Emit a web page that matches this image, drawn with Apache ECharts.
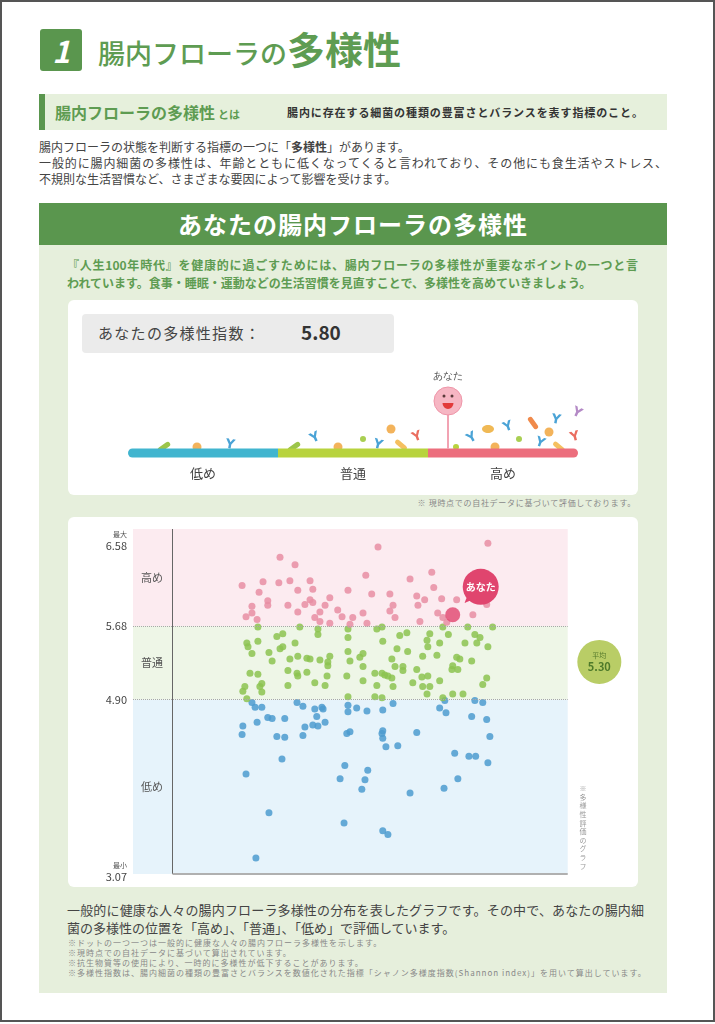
<!DOCTYPE html>
<html lang="ja">
<head>
<meta charset="utf-8">
<title>腸内フローラの多様性</title>
<script src="https://cdn.jsdelivr.net/npm/echarts@6/dist/echarts.min.js"></script>
<style>
  html, body { margin: 0; padding: 0; background: #fff; }
  body { width: 715px; height: 1024px; position: relative; overflow: hidden;
         font-family: "Noto Sans CJK JP", "Noto Sans", sans-serif; color: #444; }
  .abs { position: absolute; }
  .frame { left: 0; top: 0; width: 715px; height: 1022px; border: 2px solid #555; box-sizing: border-box; }
  .num { left: 40px; top: 29px; width: 42px; height: 42px; background: #5a964e; border-radius: 3px;
         color: #fff; font-size: 30px; font-weight: 700; font-style: italic; text-align: center; line-height: 42px; }
  .title { left: 98px; top: 29px; color: #5e9c52; white-space: nowrap; line-height: 1; }
  .title .a { font-size: 27px; font-weight: 500; }
  .title .b { font-size: 38px; font-weight: 700; }
  .defbar { left: 39px; top: 94px; width: 628px; height: 36px; background: #e6f0dc;
            border-left: 6px solid #5a964e; box-sizing: border-box; }
  .deft { left: 55px; top: 102px; color: #5e9c52; font-size: 16px; font-weight: 700; line-height: 20px; white-space: nowrap; }
  .deft small { font-size: 11px; margin-left: 3px; }
  .defr { left: 287px; top: 104px; font-size: 11px; font-weight: 700; color: #333; letter-spacing: 0.9px; line-height: 16px; white-space: nowrap; }
  .para { left: 39px; top: 139px; width: 628px; font-size: 12px; line-height: 16px; color: #444; }
  .just { text-align: justify; text-align-last: justify; }
  .head { left: 39px; top: 203px; width: 628px; height: 42px; background: #5a964e; color: #fff;
          font-size: 24px; font-weight: 700; text-align: center; line-height: 42px; letter-spacing: 1px; }
  .panel { left: 39px; top: 245px; width: 628px; height: 748px; background: #e6efdc; }
  .intro { left: 67px; top: 256px; width: 571px; font-size: 12px; font-weight: 700; color: #5e9c52; line-height: 18px; }
  .box { background: #fff; border-radius: 6px; }
  .score { left: 82px; top: 314px; width: 312px; height: 39px; background: #ebebeb; border-radius: 4px; }
  .scoret { left: 98px; top: 322px; font-size: 15px; color: #444; line-height: 22px; white-space: nowrap; letter-spacing: 1.3px; }
  .scorev { left: 301px; top: 320px; font-size: 19px; font-weight: 700; color: #333; line-height: 24px; }
  .note1 { left: 400px; top: 498px; width: 236px; text-align: right; font-size: 8px; letter-spacing: 0.7px; color: #888; line-height: 10px; white-space: nowrap; }
  .vnote { left: 578px; top: 785px; writing-mode: vertical-rl; font-size: 7px; color: #999; letter-spacing: 1.6px; }
  .bottom { left: 67px; top: 901px; width: 577px; font-size: 13px; color: #444; line-height: 18px; }
  .notes { left: 68px; top: 938px; font-size: 8px; letter-spacing: 1px; color: #888; line-height: 10px; white-space: nowrap; }
</style>
</head>
<body>
<div class="abs frame"></div>
<div class="abs num">1</div>
<div class="abs title"><span class="a">腸内フローラの</span><span class="b">多様性</span></div>

<div class="abs defbar"></div>
<div class="abs deft">腸内フローラの多様性<small>とは</small></div>
<div class="abs defr">腸内に存在する細菌の種類の豊富さとバランスを表す指標のこと。</div>

<div class="abs para">
  <div>腸内フローラの状態を判断する指標の一つに「<b>多様性</b>」があります。</div>
  <div class="just">一般的に腸内細菌の多様性は、年齢とともに低くなってくると言われており、その他にも食生活やストレス、</div>
  <div>不規則な生活習慣など、さまざまな要因によって影響を受けます。</div>
</div>

<div class="abs panel"></div>
<div class="abs head">あなたの腸内フローラの多様性</div>
<div class="abs intro">
  <div class="just">『人生100年時代』を健康的に過ごすためには、腸内フローラの多様性が重要なポイントの一つと言</div>
  <div>われています。食事・睡眠・運動などの生活習慣を見直すことで、多様性を高めていきましょう。</div>
</div>

<div class="abs box" style="left:68px;top:300px;width:570px;height:195px;"></div>
<div id="gauge" class="abs" style="left:68px;top:300px;width:570px;height:195px;"></div>
<div class="abs score"></div>
<div class="abs scoret">あなたの多様性指数：</div>
<div class="abs scorev" id="scoreText"></div>
<div class="abs note1">※ 現時点での自社データに基づいて評価しております。</div>

<div class="abs box" style="left:68px;top:517px;width:570px;height:370px;"></div>
<div id="scatter" class="abs" style="left:68px;top:517px;width:570px;height:370px;"></div>
<div class="abs vnote">※多様性評価のグラフ</div>

<div class="abs bottom">
  <div class="just">一般的に健康な人々の腸内フローラ多様性の分布を表したグラフです。その中で、あなたの腸内細</div>
  <div>菌の多様性の位置を「高め」、「普通」、「低め」で評価しています。</div>
</div>
<div class="abs notes">
  <div>※ドットの一つ一つは一般的に健康な人々の腸内フローラ多様性を示します。</div>
  <div>※現時点での自社データに基づいて算出されています。</div>
  <div>※抗生物質等の使用により、一時的に多様性が低下することがあります。</div>
  <div>※多様性指数は、腸内細菌の種類の豊富さとバランスを数値化された指標「シャノン多様度指数(Shannon index)」を用いて算出しています。</div>
</div>

<script>
// 評価の区分
var levelNames = ['低め', '普通', '高め'];
var levelBreaks = [3.07, 4.90, 5.68, 6.58];
var tickTags = ['最小', '', '', '最大'];

// あなたのスコアと平均
var youScore = 5.80;
var youPos = 70.9;
var avgScore = 5.30;

// 分布のドット [横位置, 多様性指数]
var highDots = [
  [52.0,6.52],[79.8,6.56],[27.2,6.41],[31.0,6.33],[17.6,6.11],[22.9,6.15],[26.9,6.14],[29.7,6.16],
  [34.8,6.16],[48.9,6.22],[60.1,6.18],[65.6,6.25],[21.9,6.04],[31.7,6.06],[35.5,6.07],[44.4,6.06],
  [50.4,6.02],[55.0,6.02],[66.1,6.09],[61.8,6.00],[63.8,5.96],[68.1,5.97],[71.9,5.96],[24.1,5.95],
  [34.8,5.96],[39.8,5.98],[20.1,5.89],[24.1,5.90],[29.2,5.90],[33.5,5.91],[35.5,5.93],[38.6,5.90],
  [55.8,5.90],[62.1,5.90],[79.5,5.91],[20.1,5.82],[31.7,5.83],[37.3,5.83],[41.8,5.85],[48.2,5.82],
  [55.0,5.84],[67.1,5.82],[76.0,5.80],[18.6,5.78],[21.4,5.75],[36.0,5.77],[37.3,5.73],[42.9,5.78],
  [45.6,5.77],[56.3,5.77],[62.6,5.73],[68.4,5.77],[69.4,5.72],[39.8,5.71],[44.9,5.70],[49.2,5.71]
];
var normalDots = [
  [21.6,5.67],[32.2,5.67],[36.8,5.65],[44.4,5.65],[53.0,5.67],[68.4,5.67],[74.7,5.67],[81.0,5.67],
  [26.4,5.57],[27.9,5.60],[36.8,5.59],[44.4,5.56],[51.7,5.65],[57.5,5.58],[59.3,5.61],[65.1,5.60],
  [69.8,5.59],[76.5,5.59],[77.8,5.56],[18.8,5.50],[19.1,5.46],[21.6,5.52],[31.0,5.50],[53.2,5.52],
  [64.4,5.53],[64.6,5.46],[67.6,5.50],[74.0,5.50],[77.0,5.50],[79.8,5.46],[27.2,5.44],[27.9,5.46],
  [56.8,5.44],[20.1,5.39],[24.4,5.40],[44.4,5.41],[48.2,5.39],[47.4,5.35],[59.5,5.41],[66.9,5.37],
  [63.3,5.36],[71.9,5.35],[72.7,5.33],[39.8,5.36],[31.7,5.36],[34.0,5.34],[34.8,5.33],[29.7,5.33],
  [25.2,5.31],[37.3,5.32],[39.3,5.30],[44.9,5.31],[55.5,5.33],[75.7,5.31],[39.3,5.26],[48.2,5.25],
  [56.3,5.25],[58.3,5.25],[58.3,5.21],[61.8,5.22],[70.7,5.22],[70.9,5.26],[72.2,5.22],[29.2,5.21],
  [31.5,5.18],[34.0,5.19],[31.7,5.15],[19.6,5.18],[21.6,5.17],[53.0,5.18],[53.7,5.16],[54.5,5.15],
  [55.5,5.13],[51.2,5.18],[39.1,5.15],[44.1,5.15],[48.2,5.10],[63.1,5.14],[64.6,5.15],[67.6,5.10],
  [79.5,5.13],[36.0,5.08],[38.6,5.05],[29.2,5.05],[22.6,5.07],[22.1,5.04],[18.3,5.04],[51.7,5.05],
  [55.8,5.04],[60.8,5.08],[63.3,5.04],[65.1,5.04],[78.5,5.06],[17.8,4.99],[22.6,4.98],[44.4,4.93],
  [51.2,4.93],[53.0,4.92],[64.4,4.96],[70.9,4.96],[73.5,4.96],[18.8,4.91],[68.4,4.92]
];
var lowDots = [
  [20.1,4.87],[20.9,4.82],[22.6,4.82],[31.5,4.87],[33.0,4.83],[36.0,4.80],[37.8,4.82],[38.1,4.80],
  [44.4,4.84],[46.6,4.81],[49.2,4.78],[53.2,4.79],[55.8,4.86],[67.6,4.81],[68.9,4.89],[69.2,4.76],
  [76.5,4.89],[78.5,4.87],[44.4,4.77],[36.5,4.72],[24.1,4.71],[25.2,4.70],[28.4,4.70],[21.4,4.66],
  [38.6,4.66],[35.5,4.63],[36.8,4.62],[17.8,4.62],[33.5,4.61],[75.7,4.72],[79.5,4.69],[44.1,4.54],
  [44.9,4.56],[53.2,4.57],[53.0,4.54],[53.2,4.49],[61.8,4.55],[80.3,4.51],[17.6,4.53],[26.4,4.51],
  [28.4,4.50],[33.0,4.52],[54.0,4.40],[57.0,4.41],[71.4,4.33],[75.0,4.30],[76.7,4.30],[79.8,4.23],
  [27.7,4.27],[43.6,4.20],[49.4,4.15],[18.6,4.11],[42.4,4.06],[48.7,4.05],[72.2,4.06],[47.9,3.95],
  [60.1,3.91],[68.7,3.96],[24.4,3.70],[43.4,3.59],[53.2,3.51],[54.5,3.47],[21.1,3.22]
];

document.getElementById('scoreText').textContent = youScore.toFixed(2);

// ---------- 上のゲージ ----------
var segColors = ['#41b5cf', '#b8d33e', '#ec6e7d'];
var level = 0;
for (var i = 0; i < levelNames.length; i++) {
  if (youScore >= levelBreaks[i]) level = i;
}
var scorePos = level + (youScore - levelBreaks[level]) / (levelBreaks[level + 1] - levelBreaks[level]);

// 飾りの菌のイラスト (ピクセル位置)
var decor = [
  ['pill', 96, 147, '#9cc54a', 35], ['dot', 129, 147, '#f3b35b'], ['y', 162, 145, '#4aa3d6', -10],
  ['pill', 226, 147, '#9cc54a', 35], ['y', 247, 138, '#4aa3d6', 25], ['dot', 270, 147, '#f3b35b'],
  ['sdot', 295, 139, '#a9cf52'], ['y', 310, 145, '#4aa3d6', -15], ['pill', 333, 145, '#f5c060', -40],
  ['y', 349, 137, '#ea6d5f', 20], ['dot', 323, 129, '#f3b35b'], ['sdot', 388, 147, '#b8d33e'],
  ['y', 404, 138, '#4aa3d6', 30], ['oval', 420, 129, '#f0b955', 0], ['dot', 427, 147, '#f3b35b'],
  ['y', 440, 127, '#4aa3d6', 20], ['sdot', 451, 139, '#a9cf52'], ['pill', 465, 123, '#f08a4b', -55],
  ['y', 472, 143, '#4aa3d6', -20], ['dot', 481, 132, '#f3b35b'], ['y', 488, 120, '#4aa3d6', -10],
  ['pill', 491, 147, '#f5c060', -40], ['y', 507, 137, '#ea6d5f', 15], ['y', 509, 113, '#b48ac6', -25]
];
var decorGraphics = decor.map(function (d) {
  var t = d[0], x = d[1], y = d[2], c = d[3], r = (d[4] || 0) * Math.PI / 180;
  if (t === 'dot') return { type: 'circle', x: x, y: y, shape: { r: 4.5 }, style: { fill: c } };
  if (t === 'sdot') return { type: 'circle', x: x, y: y, shape: { r: 3 }, style: { fill: c } };
  if (t === 'pill') return { type: 'rect', x: x, y: y, rotation: r, shape: { x: -7, y: -2.5, width: 14, height: 5, r: 2.5 }, style: { fill: c } };
  if (t === 'oval') return { type: 'ellipse', x: x, y: y, shape: { cx: 0, cy: 0, rx: 6, ry: 4 }, style: { fill: c } };
  return { type: 'text', x: x, y: y, rotation: r, style: { text: 'Y', fill: c, font: 'bold 13px "DejaVu Sans"', align: 'center', verticalAlign: 'middle' } };
});

var gauge = echarts.init(document.getElementById('gauge'));
var segSeries = levelNames.map(function (n, i) {
  var radius = i === 0 ? [5, 0, 0, 5] : (i === levelNames.length - 1 ? [0, 5, 5, 0] : 0);
  return {
    type: 'bar', name: n, stack: 'g', data: [1], barWidth: 9, silent: true,
    itemStyle: { color: segColors[i], borderRadius: radius },
    label: { show: true, position: 'bottom', distance: 9, formatter: n, fontSize: 13, color: '#444',
             fontFamily: '"Noto Sans CJK JP"' }
  };
});
var face = [
  { coord: [scorePos, 0], symbol: 'rect', symbolSize: [2, 36], symbolOffset: [0, -22], itemStyle: { color: '#f2a3b3' } },
  { coord: [scorePos, 0], symbol: 'circle', symbolSize: 28, symbolOffset: [0, -52],
    itemStyle: { color: '#f6b6c3', borderColor: '#ee95a8', borderWidth: 1 } },
  { coord: [scorePos, 0], symbol: 'circle', symbolSize: 3, symbolOffset: [-4, -57], itemStyle: { color: '#5a3a3a' } },
  { coord: [scorePos, 0], symbol: 'circle', symbolSize: 3, symbolOffset: [4, -57], itemStyle: { color: '#5a3a3a' } },
  { coord: [scorePos, 0], symbol: 'path://M0,0 L20,0 A10,10 0 0 1 0,0 Z', symbolSize: [11, 6], symbolOffset: [0, -47],
    itemStyle: { color: '#e23a3a' } },
  { coord: [scorePos, 0], symbol: 'circle', symbolSize: 1, symbolOffset: [0, -77], itemStyle: { color: 'rgba(0,0,0,0)' },
    label: { show: true, position: 'inside', formatter: 'あなた', fontSize: 10, color: '#555' } }
];
gauge.setOption({
  animation: false,
  grid: { left: 60, right: 60, top: 148, height: 10 },
  xAxis: { type: 'value', min: 0, max: levelNames.length, show: false },
  yAxis: { type: 'category', data: ['score'], show: false },
  graphic: decorGraphics,
  series: segSeries.concat([{
    type: 'scatter', data: [], silent: true,
    markPoint: { silent: true, label: { show: false }, data: face }
  }])
});

// ---------- 分布グラフ ----------
var yMin = 3.05, yMax = 6.71, xEnd = 100;
var bandColors = ['#e6f3fb', '#eef6e7', '#fcebf0'];
var dotColors = ['#4c9bcf', '#8cc350', '#e88ea3'];
var bandTop = [levelBreaks[1], levelBreaks[2], yMax];
var bandBottom = [yMin, levelBreaks[1], levelBreaks[2]];
var bands = levelNames.map(function (n, i) {
  return [
    { name: n, xAxis: -10, yAxis: bandBottom[i], itemStyle: { color: bandColors[i] },
      label: { show: true, position: 'insideLeft', distance: 8, fontSize: 11, color: '#555' } },
    { xAxis: xEnd, yAxis: bandTop[i] }
  ];
});
var dotted = { type: 'dotted', color: '#a8a8a8', width: 1 };
var lines = [
  [{ coord: [-10, levelBreaks[2]], lineStyle: dotted }, { coord: [xEnd, levelBreaks[2]] }],
  [{ coord: [-10, levelBreaks[1]], lineStyle: dotted }, { coord: [xEnd, levelBreaks[1]] }],
  [{ coord: [0, yMin], lineStyle: { type: 'solid', color: '#666', width: 1 } }, { coord: [0, yMax] }],
  [{ coord: [0, yMin], lineStyle: { type: 'solid', color: '#b0b0b0', width: 2 } }, { coord: [xEnd, yMin] }]
];

var chart = echarts.init(document.getElementById('scatter'));
chart.setOption({
  animation: false,
  textStyle: { fontFamily: '"Noto Sans CJK JP", "Noto Sans", sans-serif' },
  grid: { left: 65, top: 12, width: 494, height: 345 },
  xAxis: { type: 'value', min: -10, max: 115, show: false },
  yAxis: {
    type: 'value', min: yMin, max: yMax,
    axisLine: { show: false }, axisTick: { show: false }, splitLine: { show: false },
    axisLabel: {
      customValues: levelBreaks, margin: 6, color: '#444',
      formatter: function (v) {
        var k = levelBreaks.indexOf(v);
        var tag = k >= 0 ? tickTags[k] : '';
        return (tag ? '{t|' + tag + '}\n' : '') + '{n|' + v.toFixed(2) + '}';
      },
      rich: { t: { fontSize: 7, color: '#555', align: 'right', lineHeight: 9 },
              n: { fontSize: 11, color: '#444', align: 'right', lineHeight: 13 } }
    }
  },
  series: [
    { type: 'scatter', data: [], silent: true, z: 1,
      markArea: { silent: true, data: bands },
      markLine: { silent: true, symbol: 'none', label: { show: false }, data: lines } },
    { type: 'scatter', name: levelNames[0], data: lowDots, symbolSize: 7, z: 3,
      itemStyle: { color: dotColors[0], opacity: 0.85 } },
    { type: 'scatter', name: levelNames[1], data: normalDots, symbolSize: 7, z: 3,
      itemStyle: { color: dotColors[1], opacity: 0.85 } },
    { type: 'scatter', name: levelNames[2], data: highDots, symbolSize: 7, z: 3,
      itemStyle: { color: dotColors[2], opacity: 0.85 } },
    { type: 'scatter', name: 'あなた', data: [[youPos, youScore]], symbolSize: 15, z: 5,
      itemStyle: { color: '#e0456e' },
      markPoint: {
        silent: true,
        data: [
          { coord: [youPos, youScore], symbol: 'triangle', symbolSize: [10, 12], symbolRotate: 135,
            symbolOffset: [16, -16], itemStyle: { color: '#e0456e' }, label: { show: false } },
          { coord: [youPos, youScore], symbol: 'circle', symbolSize: 36, symbolOffset: [28, -28],
            itemStyle: { color: '#e0456e' },
            label: { show: true, position: 'inside', formatter: 'あなた', color: '#fff', fontSize: 10, fontWeight: 'bold' } }
        ]
      } },
    { type: 'scatter', data: [], silent: true, z: 4,
      markPoint: {
        silent: true,
        data: [{ coord: [108, avgScore], symbol: 'circle', symbolSize: 44, itemStyle: { color: '#b9cd66' },
          label: { show: true, position: 'inside', formatter: '{a|平均}\n{b|' + avgScore.toFixed(2) + '}',
            rich: { a: { fontSize: 7, color: '#557a2c', lineHeight: 10 },
                    b: { fontSize: 11, fontWeight: 'bold', color: '#4e7a2a', lineHeight: 13 } } } }]
      } }
  ]
});
</script>
</body>
</html>
